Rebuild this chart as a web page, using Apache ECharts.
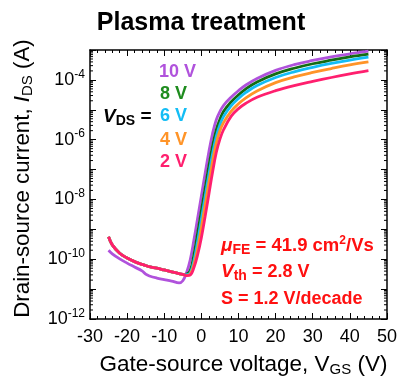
<!DOCTYPE html>
<html>
<head>
<meta charset="utf-8">
<script src="https://cdn.jsdelivr.net/npm/echarts@6/dist/echarts.min.js"></script>
<style>
  html, body { margin: 0; padding: 0; background: #fff; }
  #chart { width: 400px; height: 382px; }
</style>
</head>
<body>
<div id="chart"></div>
<script>
// gate voltage grid (V)
var vgs = [-25, -24, -22, -20, -18, -16, -15, -14, -12, -10, -8, -6, -5, -4, -3, -2, -1,
           0, 1, 2, 3, 4, 5, 6, 8, 10, 12, 15, 20, 25, 30, 35, 40, 45];

// log10(I_DS / A), one array per drain voltage
var logI10V = [-9.70, -9.82, -9.99, -10.13, -10.26, -10.39, -10.50, -10.56, -10.63, -10.68, -10.73, -10.79, -10.72, -10.45, -10.02, -9.35, -8.62,
               -7.88, -7.14, -6.42, -5.80, -5.34, -5.06, -4.85, -4.58, -4.36, -4.17, -3.95, -3.68, -3.49, -3.35, -3.23, -3.13, -3.04];
var logI8V  = [-9.25, -9.52, -9.80, -9.96, -10.08, -10.17, -10.21, -10.25, -10.30, -10.36, -10.42, -10.48, -10.51, -10.50, -10.38, -9.85, -9.12,
               -8.38, -7.64, -6.90, -6.22, -5.68, -5.32, -5.05, -4.74, -4.50, -4.30, -4.07, -3.80, -3.61, -3.46, -3.34, -3.23, -3.14];
var logI6V  = [-9.25, -9.52, -9.80, -9.96, -10.08, -10.17, -10.21, -10.25, -10.30, -10.36, -10.42, -10.48, -10.51, -10.52, -10.46, -10.05, -9.40,
               -8.66, -7.92, -7.18, -6.48, -5.90, -5.50, -5.22, -4.87, -4.62, -4.42, -4.19, -3.92, -3.73, -3.58, -3.45, -3.34, -3.24];
var logI4V  = [-9.25, -9.52, -9.80, -9.96, -10.08, -10.17, -10.21, -10.25, -10.30, -10.36, -10.42, -10.48, -10.51, -10.54, -10.50, -10.18, -9.65,
               -8.95, -8.20, -7.46, -6.75, -6.12, -5.70, -5.42, -5.05, -4.80, -4.60, -4.37, -4.09, -3.90, -3.75, -3.62, -3.50, -3.40];
var logI2V  = [-9.25, -9.52, -9.80, -9.96, -10.08, -10.17, -10.21, -10.25, -10.30, -10.36, -10.42, -10.48, -10.51, -10.55, -10.53, -10.28, -9.85,
               -9.28, -8.58, -7.84, -7.10, -6.44, -5.98, -5.66, -5.22, -4.96, -4.78, -4.58, -4.36, -4.19, -4.05, -3.92, -3.80, -3.69];

var seriesNames = ['10 V', '8 V', '6 V', '4 V', '2 V'];
var seriesLogs = [logI10V, logI8V, logI6V, logI4V, logI2V];
var seriesColors = ['#b052dc', '#136b13', '#14bdf5', '#ff9428', '#ff1f6e'];

var FONT = 'Liberation Sans, Arial, sans-serif';

function pairs(logs) {
  return vgs.map(function (v, i) { return [v, Math.pow(10, logs[i])]; });
}

// minor ticks of the log axis: 2..9 x 10^n
var minorTickVals = [];
for (var e = -12; e < -3; e++) {
  for (var k = 2; k <= 9; k++) minorTickVals.push([-30, k * Math.pow(10, e)]);
}

var series = seriesNames.map(function (n, i) {
  return {
    name: n,
    type: 'line',
    data: pairs(seriesLogs[i]),
    showSymbol: false,
    smooth: 0.4,
    lineStyle: { width: 2.8, color: seriesColors[i] },
    itemStyle: { color: seriesColors[i] },
    z: 3 + i
  };
});

series.push({
  type: 'custom',
  silent: true,
  data: minorTickVals,
  encode: { x: 0, y: 1 },
  clip: false,
  z: 10,
  renderItem: function (params, api) {
    var p = api.coord([api.value(0), api.value(1)]);
    var cs = params.coordSys;
    var st = { stroke: '#000', lineWidth: 1 };
    return {
      type: 'group',
      children: [
        { type: 'line', shape: { x1: cs.x, y1: p[1], x2: cs.x + 3, y2: p[1] }, style: st },
        { type: 'line', shape: { x1: cs.x + cs.width - 3, y1: p[1], x2: cs.x + cs.width, y2: p[1] }, style: st }
      ]
    };
  }
});

var axisLineStyle = { show: true, onZero: false, lineStyle: { color: '#000', width: 1.5 } };

function yLabel(val) {
  var ex = Math.round(Math.log10(val));
  if (ex % 2 !== 0) return '';
  return '{b|10}{s|' + ex + '}';
}

var option = {
  animation: false,
  backgroundColor: '#fff',
  textStyle: { fontFamily: FONT },
  grid: { left: 90, right: 11, top: 50, bottom: 61 },
  xAxis: [
    {
      type: 'value', min: -30, max: 50, interval: 10,
      axisLine: axisLineStyle,
      axisTick: { inside: true, length: 6, lineStyle: { color: '#000' } },
      minorTick: { show: true, splitNumber: 5, length: 3, lineStyle: { color: '#000' } },
      splitLine: { show: false },
      axisLabel: { color: '#000', fontSize: 18, margin: 9, fontFamily: FONT },
      name: '{n|Gate-source voltage, V}{sub|GS}{n| (V)}',
      nameLocation: 'middle',
      nameGap: 33,
      nameTextStyle: {
        padding: [0, 0, 0, 10],
        rich: {
          n: { fontSize: 22.5, color: '#000', fontFamily: FONT },
          sub: { fontSize: 15, color: '#000', fontFamily: FONT, padding: [10, 0, 0, 0] }
        }
      }
    },
    {
      type: 'value', min: -30, max: 50, interval: 10, position: 'top',
      axisLine: axisLineStyle,
      axisTick: { inside: true, length: 6, lineStyle: { color: '#000' } },
      minorTick: { show: true, splitNumber: 5, length: 3, lineStyle: { color: '#000' } },
      splitLine: { show: false },
      axisLabel: { show: false }
    }
  ],
  yAxis: [
    {
      type: 'log', logBase: 10, min: 1e-12, max: 1e-3, splitNumber: 9,
      axisLine: axisLineStyle,
      axisTick: { inside: true, length: 6, lineStyle: { color: '#000' } },
      splitLine: { show: false },
      axisLabel: {
        formatter: yLabel,
        margin: 5,
        rich: {
          b: { fontSize: 18, color: '#000', fontFamily: FONT },
          s: { fontSize: 12, color: '#000', fontFamily: FONT, padding: [0, 0, 11, 0] }
        }
      },
      name: '{n|Drain-source current, }{i|I}{sub|DS}{n| (A)}',
      nameLocation: 'middle',
      nameGap: 55,
      nameTextStyle: {
        padding: [0, 0, 0, 12],
        rich: {
          n: { fontSize: 22.3, color: '#000', fontFamily: FONT },
          i: { fontSize: 22.3, color: '#000', fontFamily: FONT, fontStyle: 'italic' },
          sub: { fontSize: 15, color: '#000', fontFamily: FONT, padding: [10, 0, 0, 0] }
        }
      }
    },
    {
      type: 'log', logBase: 10, min: 1e-12, max: 1e-3, splitNumber: 9, position: 'right',
      axisLine: axisLineStyle,
      axisTick: { inside: true, length: 6, lineStyle: { color: '#000' } },
      splitLine: { show: false },
      axisLabel: { show: false }
    }
  ],
  graphic: [
    {
      type: 'text', x: 201, y: 23,
      style: { text: 'Plasma treatment', font: 'bold 25px ' + FONT, fill: '#000', align: 'center', verticalAlign: 'middle' }
    },
    { type: 'text', x: 159, y: 72, style: { text: '10 V', font: 'bold 18px ' + FONT, fill: seriesColors[0], verticalAlign: 'middle' } },
    { type: 'text', x: 160, y: 94, style: { text: '8 V', font: 'bold 18px ' + FONT, fill: '#1e8c1e', verticalAlign: 'middle' } },
    { type: 'text', x: 160, y: 116, style: { text: '6 V', font: 'bold 18px ' + FONT, fill: seriesColors[2], verticalAlign: 'middle' } },
    { type: 'text', x: 160, y: 140, style: { text: '4 V', font: 'bold 18px ' + FONT, fill: seriesColors[3], verticalAlign: 'middle' } },
    { type: 'text', x: 160, y: 162, style: { text: '2 V', font: 'bold 18px ' + FONT, fill: seriesColors[4], verticalAlign: 'middle' } },
    {
      type: 'text', x: 103, y: 117,
      style: {
        text: '{v|V}{sub|DS}{n| =}', verticalAlign: 'middle',
        rich: {
          v: { font: 'italic bold 19px ' + FONT, fill: '#000' },
          n: { font: 'bold 19px ' + FONT, fill: '#000' },
          sub: { font: 'bold 14px ' + FONT, fill: '#000', padding: [9, 0, 0, 0] }
        }
      }
    },
    {
      type: 'text', x: 221, y: 246,
      style: {
        text: '{m|\u03bc}{sub|FE}{n| = 41.9 cm}{sup|2}{n|/Vs}', verticalAlign: 'middle',
        rich: {
          m: { font: 'italic bold 19px ' + FONT, fill: '#ff1010' },
          n: { font: 'bold 18.5px ' + FONT, fill: '#ff1010' },
          sub: { font: 'bold 14px ' + FONT, fill: '#ff1010', padding: [8, 0, 0, 0] },
          sup: { font: 'bold 12px ' + FONT, fill: '#ff1010', padding: [0, 0, 10, 0] }
        }
      }
    },
    {
      type: 'text', x: 221, y: 272,
      style: {
        text: '{v|V}{sub|th}{n| = 2.8 V}', verticalAlign: 'middle',
        rich: {
          v: { font: 'italic bold 19px ' + FONT, fill: '#ff1010' },
          n: { font: 'bold 18px ' + FONT, fill: '#ff1010' },
          sub: { font: 'bold 14px ' + FONT, fill: '#ff1010', padding: [8, 0, 0, 0] }
        }
      }
    },
    {
      type: 'text', x: 221, y: 299,
      style: { text: 'S = 1.2 V/decade', font: 'bold 18px ' + FONT, fill: '#ff1010', verticalAlign: 'middle' }
    }
  ],
  series: series
};

var chart = echarts.init(document.getElementById('chart'));
chart.setOption(option);
</script>
</body>
</html>
